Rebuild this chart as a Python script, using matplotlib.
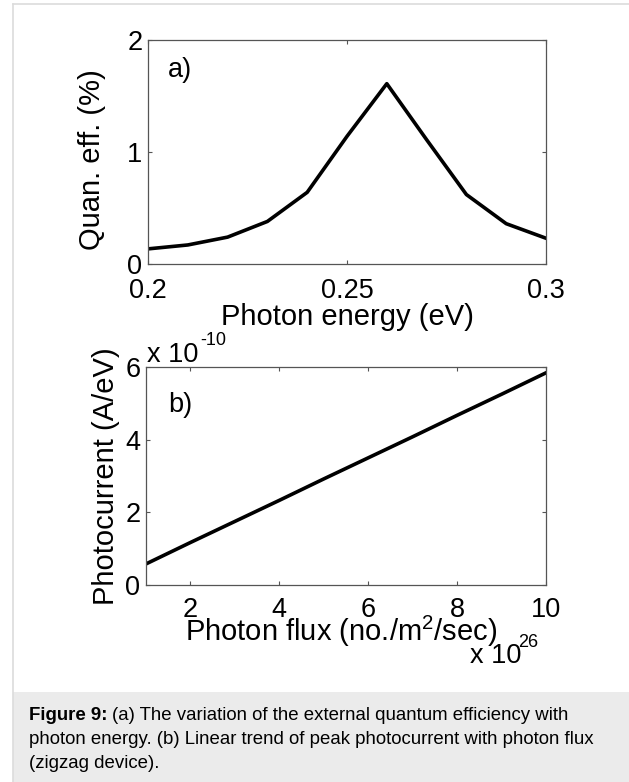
import numpy as np
import matplotlib.pyplot as plt
from matplotlib.patches import Rectangle
from matplotlib.lines import Line2D

plt.rcParams['font.family'] = ['Liberation Sans', 'DejaVu Sans']

# panel a: quantum efficiency vs photon energy
energy = [0.20, 0.21, 0.22, 0.23, 0.24, 0.25, 0.26, 0.27, 0.28, 0.29, 0.30]
qe = [0.135, 0.17, 0.24, 0.38, 0.64, 1.14, 1.61, 1.11, 0.62, 0.36, 0.23]

# panel b: photocurrent (x 1e-10 A/eV) vs photon flux (x 1e26 no./m^2/sec)
flux = [1, 2, 3, 4, 5, 6, 7, 8, 9, 10]
current = [0.58, 1.17, 1.75, 2.33, 2.92, 3.50, 4.08, 4.67, 5.25, 5.84]

W, H = 629, 782
fig = plt.figure(figsize=(W / 100, H / 100), dpi=100)

# page frame and caption box
fig.patches.append(Rectangle((13 / W, 0), 1, (H - 692) / H, transform=fig.transFigure,
                             facecolor='#ebebeb', edgecolor='none', zorder=0))
fig.lines.append(Line2D([13 / W, 13 / W], [0, 1 - 4 / H], transform=fig.transFigure,
                        color='#dcdcdc', lw=1.2))
fig.lines.append(Line2D([13 / W, 1], [1 - 4 / H, 1 - 4 / H], transform=fig.transFigure,
                        color='#dcdcdc', lw=1.2))

TICK = 19.5
LAB = 21


def px_axes(l, t, r, b):
    return fig.add_axes([l / W, 1 - b / H, (r - l) / W, (b - t) / H])


def style(ax):
    for s in ax.spines.values():
        s.set_color('#555555')
        s.set_linewidth(0.9)
    ax.tick_params(direction='in', length=3, width=0.8, color='#555555',
                   top=True, right=True, labelsize=TICK)


ax1 = px_axes(148, 40, 546, 264)
ax1.plot(energy, qe, color='black', lw=2.6)
ax1.set_xlim(0.2, 0.3)
ax1.set_ylim(0, 2)
ax1.set_xticks([0.2, 0.25, 0.3])
ax1.set_xticklabels(['0.2', '0.25', '0.3'])
ax1.set_yticks([0, 1, 2])
style(ax1)
ax1.tick_params(axis='x', pad=10)
ax1.tick_params(axis='y', pad=4)
ax1.text(0.05, 0.866, 'a)', transform=ax1.transAxes, fontsize=TICK, va='center')
fig.text(92 / W, 1 - 160 / H, 'Quan. eff. (%)', rotation=90, fontsize=LAB,
         ha='center', va='center')
fig.text(347 / W, 1 - 317 / H, 'Photon energy (eV)', fontsize=LAB,
         ha='center', va='center')

ax2 = px_axes(146, 367, 546, 585)
ax2.plot(flux, current, color='black', lw=2.6)
ax2.set_xlim(1, 10)
ax2.set_ylim(0, 6)
ax2.set_xticks([2, 4, 6, 8, 10])
ax2.set_yticks([0, 2, 4, 6])
style(ax2)
ax2.tick_params(axis='x', pad=8.5)
ax2.tick_params(axis='y', pad=4)
ax2.text(0.055, 0.826, 'b)', transform=ax2.transAxes, fontsize=TICK, va='center')

# offset exponents
fig.text(147 / W, 1 - 362 / H, 'x 10', fontsize=TICK, ha='left', va='baseline')
fig.text(200 / W, 1 - 345 / H, '-10', fontsize=13, ha='left', va='baseline')
fig.text(470 / W, 1 - 663 / H, 'x 10', fontsize=TICK, ha='left', va='baseline')
fig.text(518 / W, 1 - 647 / H, '26', fontsize=13, ha='left', va='baseline')

fig.text(106 / W, 1 - 476 / H, 'Photocurrent (A/eV)', rotation=90, fontsize=LAB,
         ha='center', va='center')
fig.text(341 / W, 1 - 631 / H, r'Photon flux (no./m$^{\mathregular{2}}$/sec)',
         fontsize=LAB, ha='center', va='center')

# caption
CAP = 13.4
cap_x = 29 / W
t = fig.text(cap_x, 1 - 720 / H, 'Figure 9:', fontsize=CAP, fontweight='bold',
             va='baseline')
fig.canvas.draw()
bb = t.get_window_extent()
fig.text(bb.x1 / W + 4 / W, 1 - 720 / H,
         '(a) The variation of the external quantum efficiency with',
         fontsize=CAP, va='baseline')
fig.text(cap_x, 1 - 744 / H,
         'photon energy. (b) Linear trend of peak photocurrent with photon flux',
         fontsize=CAP, va='baseline')
fig.text(cap_x, 1 - 768 / H, '(zigzag device).', fontsize=CAP, va='baseline')

fig.savefig('out.png', dpi=100)
